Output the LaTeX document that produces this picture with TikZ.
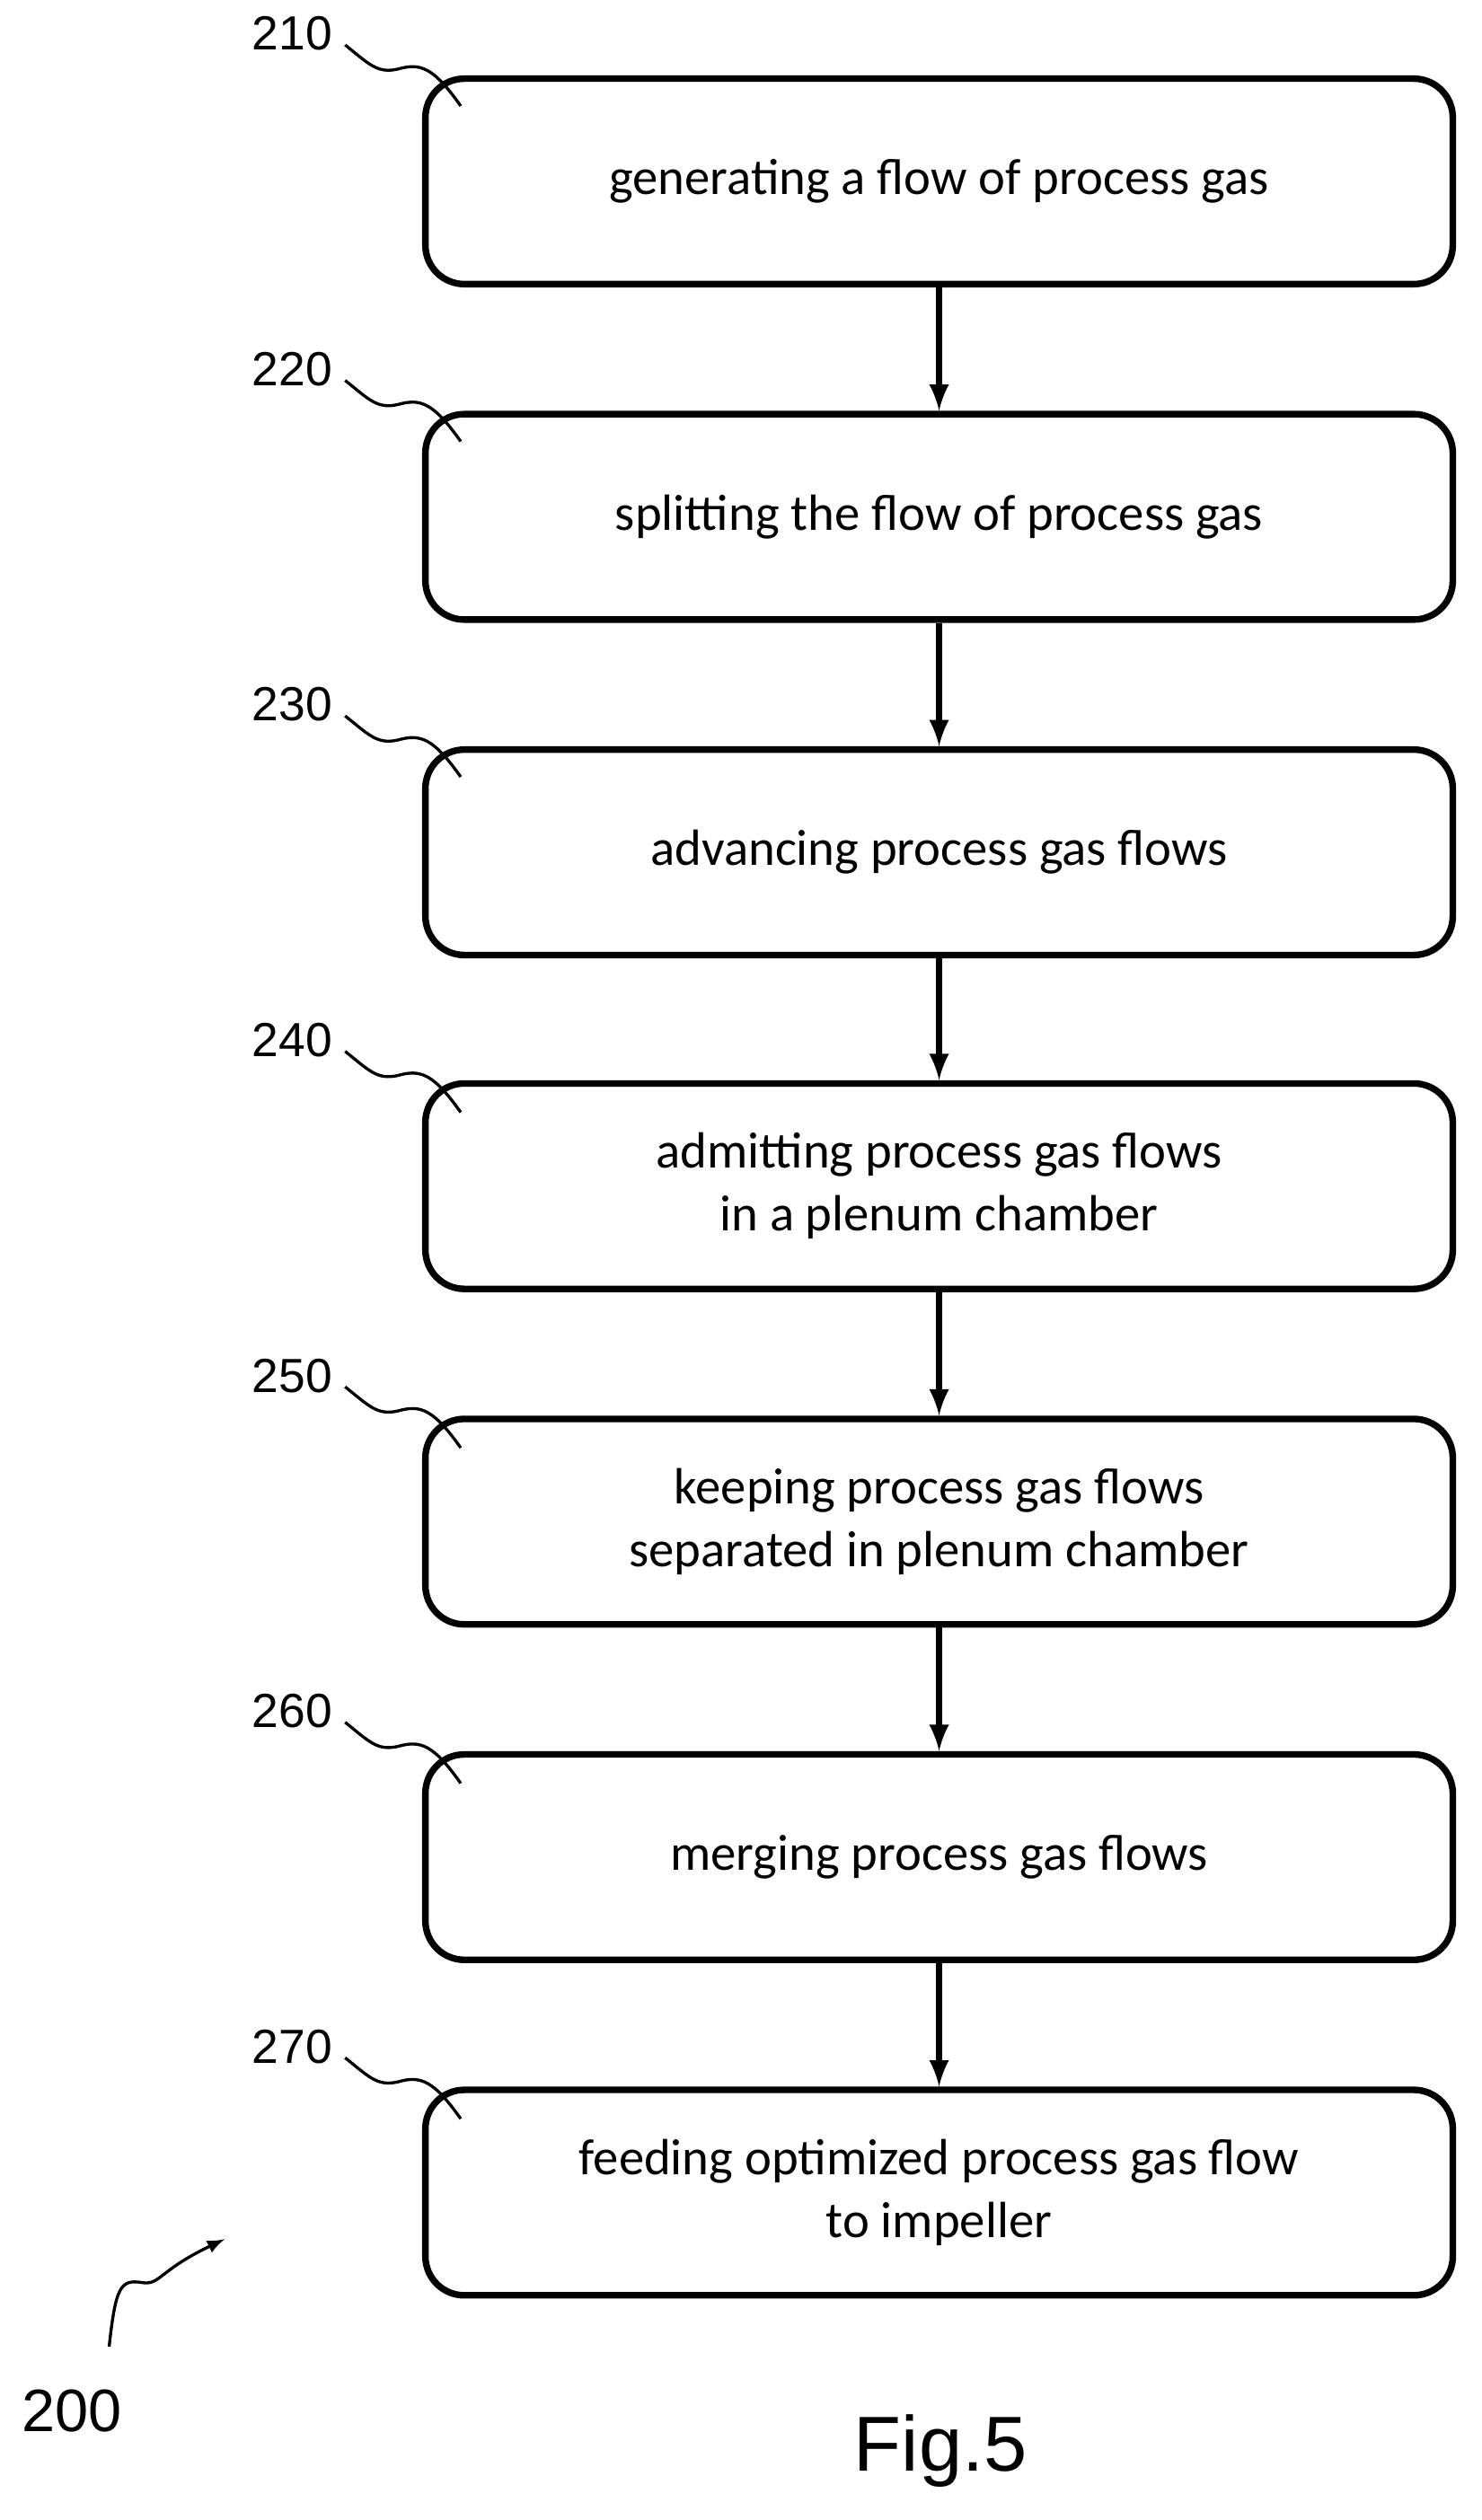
\documentclass[tikz,border=0pt]{standalone}
\usepackage{fontspec}
\setmainfont{Carlito}
\newfontfamily\labelfont{Liberation Sans}
\usetikzlibrary{positioning}

\tikzset{
  stepbox/.style={draw, line width=2.2pt, rounded corners=13pt, minimum width=640*0.536pt,
    minimum height=128*0.536pt, align=center, font=\fontsize{17}{21}\selectfont},
  flow/.style={line width=2pt, -latex},
  reflabel/.style={font=\labelfont\fontsize{16}{18}\selectfont},
  squiggle/.style={line width=1pt}
}

\begin{document}
\begin{tikzpicture}[x=0.536pt, y=-0.536pt]
        \useasboundingbox (0,0) rectangle (923,1570);

        % Steps
        \node[stepbox] (s210) at (585,113) {generating a flow of process gas};
        \node[stepbox] (s220) at (585,322) {splitting the flow of process gas};
        \node[stepbox] (s230) at (585,531) {advancing process gas flows};
        \node[stepbox] (s240) at (585,739) {admitting process gas flows\\in a plenum chamber};
        \node[stepbox] (s250) at (585,948) {keeping process gas flows\\separated in plenum chamber};
        \node[stepbox] (s260) at (585,1157) {merging process gas flows};
        \node[stepbox] (s270) at (585,1366) {feeding optimized process gas flow\\to impeller};

        % Arrows between steps
        \foreach \a/\b in {s210/s220,s220/s230,s230/s240,s240/s250,s250/s260,s260/s270}
          \draw[flow] (\a.south) -- (\b.north);

        % Reference numerals with leader lines
        \foreach \n/\y in {210/48,220/257,230/466,240/675,250/884,260/1093,270/1302} {
          \node[reflabel] (l\n) at (182,\y-27) {\n};
          \draw[squiggle] (215,\y-20) .. controls (230,\y-8) and (235,\y-2) .. (248,\y-5)
            .. controls (262,\y-9) and (270,\y-6) .. (287,\y+18);
        }

        % Figure numeral
        \node[reflabel, font=\labelfont\fontsize{20}{22}\selectfont] (l200) at (45,1502) {200};
        \draw[squiggle, -latex] (68,1462) .. controls (72,1425) and (75,1420) .. (88,1422)
          .. controls (100,1424) and (98,1415) .. (140,1395);

        % Caption
        \node[font=\labelfont\fontsize{26}{28}\selectfont] (fig) at (586,1527) {Fig.5};
    \end{tikzpicture}
\end{document}
